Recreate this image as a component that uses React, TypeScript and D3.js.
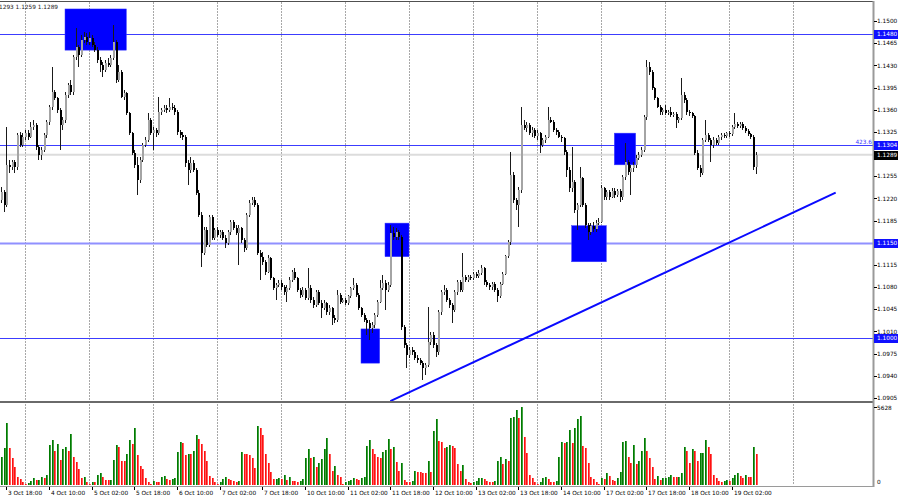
import React from 'react';
import * as d3 from 'd3';

// Prices are stored in pips above 1.0000 (e.g. 1289 -> 1.1289); one bar per hour, 3 Oct 16:00 .. 19 Oct 11:00
const openPips = [1218,1230,1210,1273,1270,1277,1270,1320,1304,1317,
1323,1317,1333,1336,1301,1289,1296,1320,1341,1364,
1388,1378,1360,1336,1344,1383,1399,1388,1443,1459,
1446,1470,1475,1467,1473,1462,1454,1438,1431,1423,
1434,1431,1442,1467,1407,1420,1380,1386,1355,1323,
1292,1273,1249,1281,1304,1312,1344,1323,1328,1323,
1356,1360,1363,1360,1365,1363,1356,1325,1320,1317,
1276,1265,1276,1265,1229,1194,1134,1170,1147,1191,
1158,1170,1162,1167,1158,1150,1167,1183,1173,1165,
1173,1154,1142,1194,1213,1218,1210,1134,1128,1120,
1104,1126,1094,1079,1083,1087,1080,1072,1079,1091,
1104,1094,1076,1068,1076,1063,1079,1060,1052,1072,
1055,1047,1055,1041,1047,1031,1028,1068,1057,1060,
1055,1066,1079,1083,1068,1047,1036,1028,1023,1016,
1020,1036,1057,1079,1087,1076,1083,1165,1159,1167,
1159,1017,989,973,981,978,968,965,960,952,
957,994,1004,989,978,1041,1072,1076,1060,1052,
1044,1072,1088,1076,1096,1091,1096,1094,1101,1098,
1102,1110,1088,1083,1080,1085,1076,1066,1085,1101,
1129,1151,1257,1218,1210,1233,1336,1331,1336,1323,
1328,1318,1323,1304,1312,1317,1344,1341,1328,1325,
1317,1315,1293,1265,1236,1246,1202,1210,1252,1210,
1178,1167,1176,1172,1181,1183,1236,1222,1230,1223,
1232,1225,1232,1222,1254,1277,1262,1268,1273,1284,
1289,1296,1349,1427,1420,1394,1378,1365,1356,1360,
1355,1356,1352,1353,1344,1347,1383,1375,1356,1355,
1350,1292,1268,1260,1312,1320,1312,1304,1312,1307,
1317,1320,1318,1323,1321,1333,1338,1334,1338,1331,
1326,1321,1317,1270];

const highPips = [1238,1233,1333,1281,1281,1281,1323,1325,1323,1328,
1328,1341,1344,1339,1304,1301,1323,1344,1367,1427,
1391,1380,1363,1349,1388,1402,1407,1446,1489,1462,
1478,1483,1481,1483,1478,1467,1459,1443,1435,1438,
1441,1446,1494,1470,1431,1423,1391,1388,1357,1325,
1296,1285,1285,1307,1317,1355,1347,1333,1331,1380,
1363,1367,1367,1378,1370,1367,1359,1328,1325,1320,
1281,1285,1281,1268,1233,1199,1175,1175,1194,1194,
1173,1175,1170,1170,1162,1170,1186,1186,1178,1178,
1175,1158,1197,1218,1222,1222,1213,1139,1136,1123,
1131,1128,1096,1086,1091,1091,1083,1083,1096,1107,
1110,1096,1079,1080,1079,1110,1083,1065,1076,1076,
1060,1060,1057,1052,1049,1036,1076,1071,1063,1063,
1068,1080,1094,1086,1071,1049,1039,1031,1028,1025,
1039,1060,1091,1099,1091,1088,1178,1175,1173,1170,
1162,1020,992,986,986,981,973,968,963,960,
1049,1009,1009,992,1044,1076,1083,1079,1063,1055,
1076,1091,1091,1134,1099,1099,1099,1104,1104,1107,
1115,1112,1091,1086,1088,1088,1079,1088,1104,1131,
1154,1293,1262,1221,1238,1364,1344,1341,1339,1333,
1331,1328,1325,1315,1320,1364,1349,1344,1331,1328,
1320,1317,1296,1270,1301,1249,1213,1270,1254,1213,
1181,1181,1183,1186,1189,1241,1238,1233,1233,1236,
1236,1235,1235,1257,1307,1281,1273,1277,1288,1293,
1301,1352,1438,1435,1423,1396,1380,1367,1363,1367,
1360,1364,1357,1356,1349,1410,1388,1378,1360,1357,
1352,1296,1273,1315,1344,1323,1315,1317,1315,1320,
1323,1323,1325,1326,1336,1355,1341,1341,1340,1334,
1330,1323,1320,1293];

const lowPips = [1213,1199,1206,1260,1265,1260,1265,1301,1301,1312,
1312,1315,1328,1296,1281,1281,1293,1315,1336,1360,
1375,1355,1296,1328,1339,1378,1383,1383,1438,1427,
1443,1465,1462,1462,1459,1451,1434,1420,1412,1420,
1427,1427,1438,1402,1404,1378,1375,1352,1320,1289,
1268,1225,1244,1277,1301,1309,1320,1296,1317,1320,
1352,1356,1355,1356,1359,1352,1320,1315,1312,1270,
1241,1260,1262,1225,1191,1112,1131,1143,1143,1154,
1154,1159,1158,1154,1142,1147,1162,1170,1162,1115,
1150,1136,1139,1191,1210,1206,1131,1091,1115,1099,
1102,1091,1076,1060,1080,1076,1068,1057,1076,1088,
1091,1072,1063,1065,1060,1060,1055,1047,1049,1052,
1031,1044,1036,1036,1020,1023,1025,1054,1055,1052,
1052,1063,1076,1065,1044,1033,1025,1004,997,1008,
1016,1033,1055,1076,1044,1072,1080,1154,1154,1154,
1012,984,952,968,973,965,960,957,933,941,
954,989,984,970,973,1036,1068,1057,1047,1023,
1041,1068,1072,1072,1088,1088,1091,1091,1094,1094,
1099,1083,1080,1076,1076,1072,1057,1063,1083,1099,
1126,1147,1213,1202,1175,1229,1328,1325,1320,1317,
1315,1312,1292,1301,1307,1315,1339,1325,1320,1315,
1309,1288,1254,1230,1230,1197,1170,1206,1206,1173,
1154,1162,1167,1167,1178,1181,1218,1218,1218,1220,
1221,1222,1215,1218,1249,1257,1225,1262,1268,1280,
1285,1293,1344,1415,1391,1375,1362,1352,1352,1352,
1352,1349,1349,1331,1339,1344,1370,1352,1350,1347,
1288,1265,1254,1257,1309,1309,1277,1299,1304,1304,
1312,1315,1315,1317,1318,1330,1331,1331,1328,1323,
1318,1313,1265,1259];

const closePips = [1230,1210,1273,1270,1277,1270,1320,1304,1317,1323,
1317,1333,1336,1301,1289,1296,1320,1341,1364,1388,
1378,1360,1336,1344,1383,1399,1388,1443,1459,1446,
1470,1475,1467,1473,1462,1454,1438,1431,1423,1434,
1431,1442,1467,1407,1420,1380,1386,1355,1323,1292,
1273,1249,1281,1304,1312,1344,1323,1328,1323,1356,
1360,1363,1360,1365,1363,1356,1325,1320,1317,1276,
1265,1276,1265,1229,1194,1134,1170,1147,1191,1158,
1170,1162,1167,1158,1150,1167,1183,1173,1165,1173,
1154,1142,1194,1213,1218,1210,1134,1128,1120,1104,
1126,1094,1079,1083,1087,1080,1072,1079,1091,1104,
1094,1076,1068,1076,1063,1079,1060,1052,1072,1055,
1047,1055,1041,1047,1031,1028,1068,1057,1060,1055,
1066,1079,1083,1068,1047,1036,1028,1023,1016,1020,
1036,1057,1079,1087,1076,1083,1165,1159,1167,1159,
1017,989,973,981,978,968,965,960,952,957,
994,1004,989,978,1041,1072,1076,1060,1052,1044,
1072,1088,1076,1096,1091,1096,1094,1101,1098,1102,
1110,1088,1083,1080,1085,1076,1066,1085,1101,1129,
1151,1257,1218,1210,1233,1336,1331,1336,1323,1328,
1318,1323,1304,1312,1317,1344,1341,1328,1325,1317,
1315,1293,1265,1236,1246,1202,1210,1252,1210,1178,
1167,1176,1172,1181,1183,1236,1222,1230,1223,1232,
1225,1232,1222,1254,1277,1262,1268,1273,1284,1289,
1296,1349,1427,1420,1394,1378,1365,1356,1360,1355,
1356,1352,1353,1344,1347,1383,1375,1356,1355,1350,
1292,1268,1260,1312,1320,1312,1304,1312,1307,1317,
1320,1318,1323,1321,1333,1338,1334,1338,1331,1326,
1321,1317,1270,1289];

const volumes = [2040,2640,4440,2688,1920,1320,600,432,192,48,
120,288,480,336,360,600,480,720,2880,3240,
2472,2928,1800,2592,2760,2448,3648,2016,1632,1152,
528,576,192,72,240,192,720,840,600,360,
336,360,1800,2880,2712,1752,1750,2208,3240,2952,
4080,2160,1368,1152,528,192,48,288,192,190,
600,648,432,336,432,480,2352,3072,3000,2160,
2232,2208,2448,3600,3312,2976,2448,1728,648,480,
192,48,192,432,600,432,336,288,240,288,
2400,2208,2200,2190,1920,1248,4248,4080,3600,2232,
1560,912,432,440,480,432,720,360,576,288,
280,240,288,408,1920,2568,1968,2016,1296,1560,
1872,2568,3360,2208,1008,1392,720,600,48,192,
288,360,480,432,384,528,600,2808,3240,2568,
2208,2040,1920,2400,2520,3312,2592,2712,1680,1008,
1608,360,240,192,288,1032,912,900,888,864,
1728,912,3912,4752,3168,3120,2640,2712,2880,2808,
2640,1488,1008,1440,432,192,120,192,288,480,
528,408,312,240,192,288,1728,2016,1512,1896,
1752,4800,4896,5400,4800,5592,3480,2280,720,480,
192,48,192,480,600,432,192,180,288,2016,
3072,3048,3072,3984,3048,4080,4752,4992,2808,2688,
1608,576,432,192,48,480,432,888,648,360,
288,480,912,3072,3192,2016,1608,2880,1488,1752,
2448,3408,2448,1968,1320,432,648,336,480,528,
576,720,600,576,600,840,2760,2448,1608,2592,
2448,1752,2280,2328,3240,2712,2232,720,480,288,
192,288,360,288,480,720,840,648,528,720,
600,576,2712,2208];

const volumeMax = 5628;

const priceTicks = [1.1500,1.1465,1.1430,1.1395,1.1360,1.1325,1.1290,1.1255,1.1220,1.1185,1.1150,1.1115,1.1080,1.1045,1.1010,1.0975,1.0940,1.0905];
const levelPrices = [1.1480, 1.1304, 1.1150, 1.1000];
const levelLabels = ['1.1480', '1.1304', '1.1150', '1.1000'];
const currentPrice = 1.1289;

const timeLabels = ['3 Oct 18:00','4 Oct 10:00','5 Oct 02:00','5 Oct 18:00','6 Oct 10:00','7 Oct 02:00','7 Oct 18:00','10 Oct 10:00','11 Oct 02:00','11 Oct 18:00','12 Oct 10:00','13 Oct 02:00','13 Oct 18:00','14 Oct 10:00','17 Oct 02:00','17 Oct 18:00','18 Oct 10:00','19 Oct 02:00'];
const timeLabelBars = [2,18,34,50,66,82,98,114,130,146,162,178,194,210,226,242,258,274];
const gridBars = [9,33,57,81,105,129,153,177,201,225,249,273,297];

// highlighted zones: bar range and price range
const zoneStartBar = [24, 135, 144, 214, 230];
const zoneEndBar = [47, 142, 153, 227, 238];
const zoneTop = [1.1519, 1.1014, 1.1181, 1.1177, 1.1323];
const zoneBottom = [1.1454, 1.0960, 1.1128, 1.1120, 1.1273];

// trend line anchors
const trendBars = [146, 313];
const trendPrices = [1.0900, 1.1229];

const headerText = '1293 1.1259 1.1289';
const fiboLabel = '423.6';

const FONT = 'DejaVu Sans, Verdana, sans-serif';

export default function App() {
  const W = 900, H = 500;
  const plotRight = 873;
  const x = d3.scaleLinear().domain([0, 327]).range([1, plotRight]);
  const y = d3.scaleLinear().domain([1.09, 1.15]).range([401.16, 21]);
  const yv = d3.scaleLinear().domain([0, volumeMax]).range([485, 406.8]);
  const toP = (v: number) => 1 + v / 10000;
  const cx = (i: number) => Math.round(x(i));

  const trendLine = d3.line<number>()
    .x((_, k) => x(trendBars[k]))
    .y((p) => y(p));

  return (
    <svg width={W} height={H} style={{ position: 'absolute', left: 0, top: 0, background: '#fff' }}
      fontFamily={FONT}>
      <rect x={0} y={0} width={W} height={H} fill="#ffffff" />
      {/* vertical grid */}
      {gridBars.map((b) => (
        <line key={'g' + b} x1={cx(b) + 0.5} x2={cx(b) + 0.5} y1={2} y2={485}
          stroke="#a8a8a8" strokeWidth={1} strokeDasharray="2,1" />
      ))}
      {/* current price line */}
      <line x1={0} x2={plotRight} y1={y(currentPrice)} y2={y(currentPrice)} stroke="#dcdcdc" strokeWidth={2} />
      {/* level lines */}
      {levelPrices.map((p, k) => (
        <line key={'l' + k} x1={0} x2={plotRight} y1={Math.round(y(p)) + 0.5} y2={Math.round(y(p)) + 0.5}
          stroke={p === 1.1150 ? '#9090ff' : '#3c3cff'} strokeWidth={p === 1.1150 ? 2 : 1} />
      ))}
      {/* zones */}
      {zoneStartBar.map((s, k) => (
        <rect key={'z' + k} x={x(s)} y={y(zoneTop[k])} width={x(zoneEndBar[k]) - x(s)}
          height={y(zoneBottom[k]) - y(zoneTop[k])} fill="#0000ff" stroke="#3c3cff" strokeWidth={0.5} />
      ))}
      {/* trend line */}
      <path d={trendLine(trendPrices) || ''} stroke="#0a0aff" strokeWidth={2} fill="none" />
      {/* candles */}
      <g shapeRendering="crispEdges">
        {closePips.map((c, i) => {
          const o = toP(openPips[i]);
          const cl = toP(c);
          const hi = toP(highPips[i]);
          const lo = toP(lowPips[i]);
          const xx = cx(i);
          const bull = cl >= o;
          const top = y(Math.max(o, cl));
          const bot = y(Math.min(o, cl));
          return (
            <g key={'c' + i}>
              <line x1={xx + 0.5} x2={xx + 0.5} y1={y(hi)} y2={y(lo)} stroke="#1a1a1a" strokeWidth={1} />
              <rect x={xx - 0.5} y={top} width={2} height={Math.max(1, bot - top)}
                fill={bull ? '#a4a4a4' : '#000000'} />
            </g>
          );
        })}
      </g>
      {/* volumes */}
      <g shapeRendering="crispEdges">
        {volumes.map((v, i) => {
          const up = i === 0 || v > volumes[i - 1];
          const xx = cx(i);
          const top = yv(v);
          return (
            <g key={'v' + i}>
              <rect x={xx - 0.5} y={top} width={1} height={485 - top} fill={up ? '#007a00' : '#ff1010'} />
              <rect x={xx + 0.5} y={top} width={1} height={485 - top} fill={up ? '#40a040' : '#ff5a5a'} />
            </g>
          );
        })}
      </g>
      {/* frame */}
      <line x1={0} x2={plotRight} y1={1.5} y2={1.5} stroke="#505050" strokeWidth={1} />
      <line x1={0} x2={plotRight} y1={402} y2={402} stroke="#6a6a6a" strokeWidth={2} />
      <line x1={0} x2={plotRight} y1={486.5} y2={486.5} stroke="#9a9a9a" strokeWidth={1} />
      <line x1={plotRight + 0.5} x2={plotRight + 0.5} y1={1} y2={487} stroke="#9a9a9a" strokeWidth={2} />
      {/* price axis */}
      {priceTicks.map((p) => (
        <g key={'t' + p}>
          <line x1={plotRight + 1} x2={plotRight + 4} y1={Math.round(y(p)) + 0.5} y2={Math.round(y(p)) + 0.5} stroke="#000" />
          <text x={877} y={y(p) + 2.2} fontSize={5.8} fill="#000">{p.toFixed(4)}</text>
        </g>
      ))}
      {levelPrices.map((p, k) => (
        <g key={'lb' + k}>
          <rect x={plotRight + 1} y={Math.round(y(p)) - 4} width={24} height={9} fill="#1010ff" />
          <text x={877} y={y(p) + 2.3} fontSize={5.8} fill="#fff">{levelLabels[k]}</text>
        </g>
      ))}
      <rect x={plotRight + 1} y={Math.round(y(currentPrice)) - 4} width={24} height={9} fill="#000" />
      <text x={877} y={y(currentPrice) + 2.3} fontSize={5.8} fill="#fff">{currentPrice.toFixed(4)}</text>
      <text x={plotRight - 1} y={y(levelPrices[1]) - 1.5} fontSize={5.8} fill="#3c3cff" textAnchor="end">{fiboLabel}</text>
      {/* volume axis */}
      <line x1={plotRight + 1} x2={plotRight + 4} y1={407.5} y2={407.5} stroke="#000" />
      <text x={877} y={410} fontSize={5.8} fill="#000">{String(volumeMax)}</text>
      <text x={877} y={484} fontSize={5.8} fill="#000">0</text>
      {/* time axis */}
      {timeLabelBars.map((b, k) => (
        <g key={'tl' + k}>
          <line x1={cx(b) + 0.5} x2={cx(b) + 0.5} y1={487} y2={490} stroke="#000" />
          <text x={cx(b) + 2} y={494.5} fontSize={5.8} fill="#000">{timeLabels[k]}</text>
        </g>
      ))}
      {/* header */}
      <text x={-1} y={8.5} fontSize={5.8} fill="#222">{headerText}</text>
    </svg>
  );
}
